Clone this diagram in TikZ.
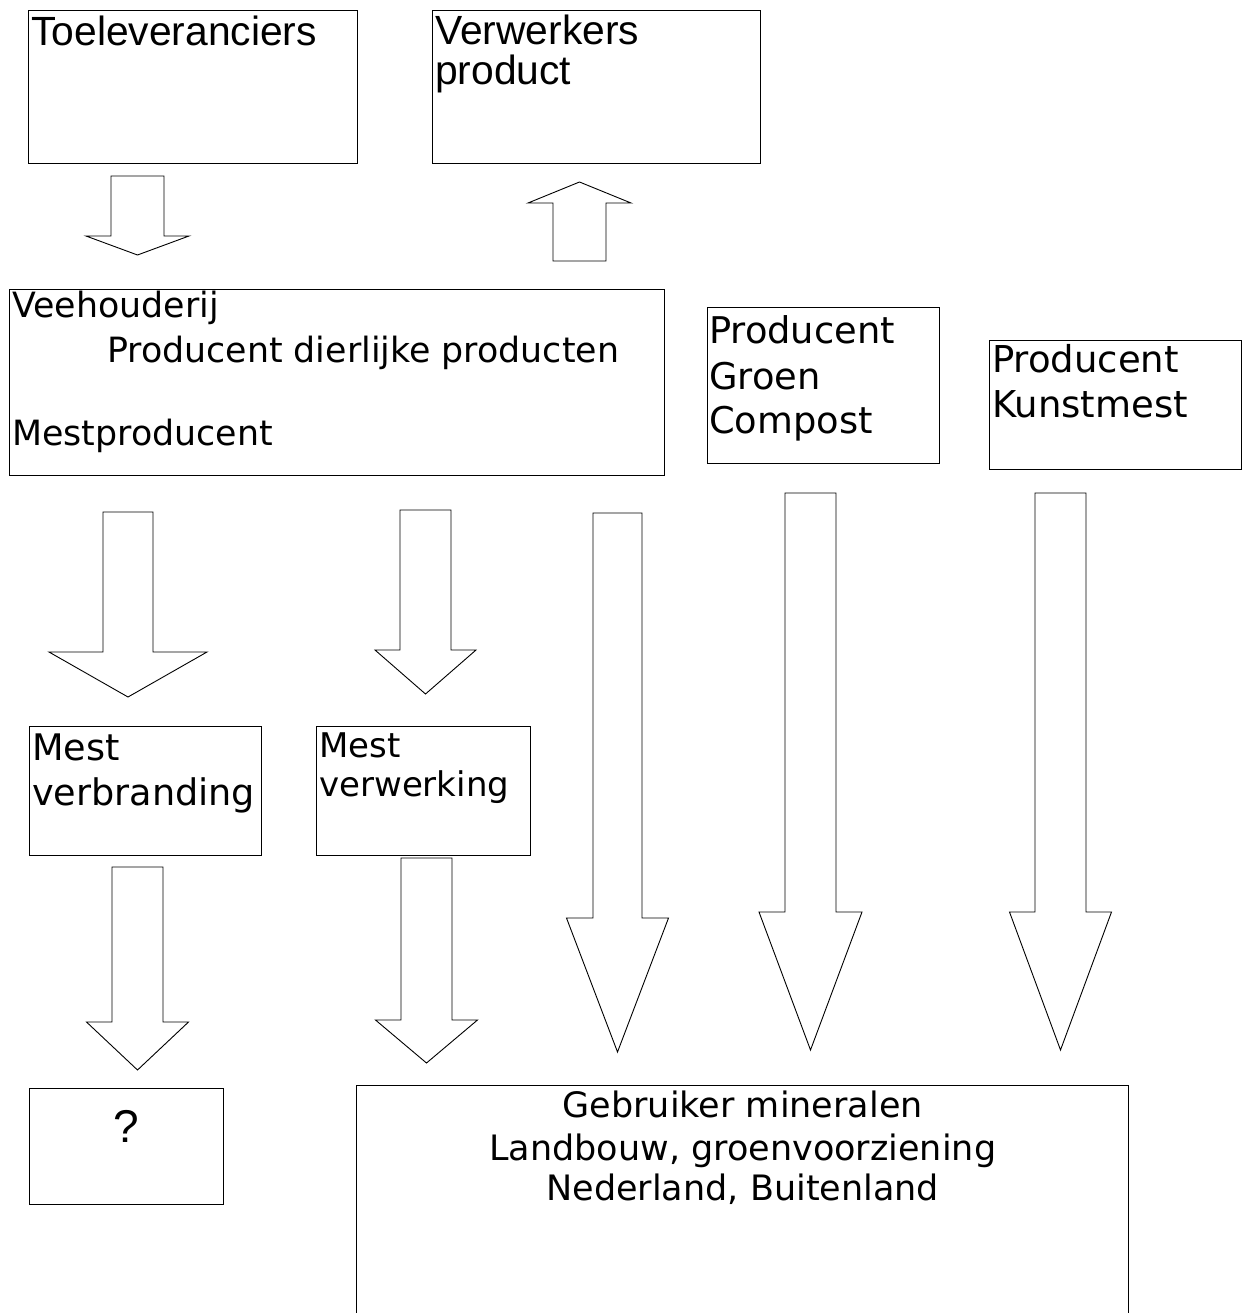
\documentclass[tikz,border=0pt]{standalone}
\usepackage{fontspec}
\setmainfont{DejaVu Sans}
\newfontfamily\narrowfont{Liberation Sans}
\usepackage{tikz}

\tikzset{
	box/.style={draw,line width=1.4pt,anchor=north west,inner sep=0pt},
	txt/.style={anchor=base west,inner sep=0pt},
	ctxt/.style={anchor=base,inner sep=0pt},
	arrowline/.style={draw,line width=0.9pt,line join=miter,fill=white}
}
% block arrow: centre x, start y, head base y, tip y, half shaft, half head
\newcommand{\blkarrow}[6]{%
	\draw[arrowline] (#1-#5,#2) -- (#1+#5,#2) -- (#1+#5,#3) -- (#1+#6,#3) -- (#1,#4) -- (#1-#6,#3) -- (#1-#5,#3) -- cycle;}

\begin{document}
\begin{tikzpicture}[x=1pt,y=-1pt]
			\useasboundingbox (0,0) rectangle (1247,1313);
			\clip (0,0) rectangle (1247,1313);

			\coordinate (toel_nw) at (28,10);
			\coordinate (verw_nw) at (432,10);
			\coordinate (veeh_nw) at (9,289);
			\coordinate (groen_nw) at (707,307);
			\coordinate (kunst_nw) at (989,340);
			\coordinate (mverb_nw) at (29,726);
			\coordinate (mverw_nw) at (316,726);
			\coordinate (vraag_nw) at (29,1088);
			\coordinate (gebr_nw) at (356,1085);

			\node[box,minimum width=329pt,minimum height=153pt] (toel) at (toel_nw) {};
			\node[box,minimum width=328pt,minimum height=153pt] (verw) at (verw_nw) {};
			\node[box,minimum width=655pt,minimum height=186pt] (veeh) at (veeh_nw) {};
			\node[box,minimum width=232pt,minimum height=156pt] (groen) at (groen_nw) {};
			\node[box,minimum width=252pt,minimum height=129pt] (kunst) at (kunst_nw) {};
			\node[box,minimum width=232pt,minimum height=129pt] (mverb) at (mverb_nw) {};
			\node[box,minimum width=214pt,minimum height=129pt] (mverw) at (mverw_nw) {};
			\node[box,minimum width=194pt,minimum height=116pt] (vraag) at (vraag_nw) {};
			\node[box,minimum width=772pt,minimum height=260pt] (gebr) at (gebr_nw) {};

			\node[txt,font=\narrowfont\fontsize{40.8}{40}\selectfont] (t_toel) at ([shift={(3,36)}]toel.north west) {Toeleveranciers};
			\node[txt,font=\narrowfont\fontsize{40.8}{40}\selectfont] (t_verw1) at ([shift={(3,35)}]verw.north west) {Verwerkers};
			\node[txt,font=\narrowfont\fontsize{40.8}{40}\selectfont] (t_verw2) at ([shift={(3,75)}]verw.north west) {product};

			\node[txt,font=\fontsize{34.8}{40}\selectfont] (t_veeh1) at ([shift={(3,28)}]veeh.north west) {Veehouderij};
			\node[txt,font=\fontsize{34.8}{40}\selectfont] (t_veeh2) at ([shift={(98,73)}]veeh.north west) {Producent dierlijke producten};
			\node[txt,font=\fontsize{34.8}{40}\selectfont] (t_veeh3) at ([shift={(3,156)}]veeh.north west) {Mestproducent};

			\node[txt,font=\fontsize{36.8}{45}\selectfont] (t_groen1) at ([shift={(2,36)}]groen.north west) {Producent};
			\node[txt,font=\fontsize{36.8}{45}\selectfont] (t_groen2) at ([shift={(2,82)}]groen.north west) {Groen};
			\node[txt,font=\fontsize{36.8}{45}\selectfont] (t_groen3) at ([shift={(2,126)}]groen.north west) {Compost};

			\node[txt,font=\fontsize{37}{45}\selectfont] (t_kunst1) at ([shift={(3,32)}]kunst.north west) {Producent};
			\node[txt,font=\fontsize{37}{45}\selectfont] (t_kunst2) at ([shift={(3,77)}]kunst.north west) {Kunstmest};

			\node[txt,font=\fontsize{36.6}{45}\selectfont] (t_mverb1) at ([shift={(3,34)}]mverb.north west) {Mest};
			\node[txt,font=\fontsize{36.6}{45}\selectfont] (t_mverb2) at ([shift={(3,79)}]mverb.north west) {verbranding};

			\node[txt,font=\fontsize{34}{40}\selectfont] (t_mverw1) at ([shift={(3,31)}]mverw.north west) {Mest};
			\node[txt,font=\fontsize{34}{40}\selectfont] (t_mverw2) at ([shift={(3,70)}]mverw.north west) {verwerking};

			\node[ctxt,font=\narrowfont\fontsize{46}{46}\selectfont] (t_vraag) at ([shift={(0,54)}]vraag.north) {?};

			\node[ctxt,font=\fontsize{35}{42}\selectfont] (t_gebr1) at ([shift={(0,32)}]gebr.north) {Gebruiker mineralen};
			\node[ctxt,font=\fontsize{35}{42}\selectfont] (t_gebr2) at ([shift={(0,75)}]gebr.north) {Landbouw, groenvoorziening};
			\node[ctxt,font=\fontsize{35}{42}\selectfont] (t_gebr3) at ([shift={(0,115)}]gebr.north) {Nederland, Buitenland};

			\blkarrow{137.5}{176}{236}{255}{26.5}{51.5}
			\blkarrow{579.5}{261}{203}{182}{26.5}{51.5}
			\blkarrow{128}{512}{652}{697}{25}{79}
			\blkarrow{425.5}{510}{650}{694}{25.5}{50.5}
			\blkarrow{617.5}{513}{918}{1052}{24.5}{51}
			\blkarrow{810.5}{493}{912}{1050}{25.5}{51.5}
			\blkarrow{1060.5}{493}{912}{1050}{25.5}{51}
			\blkarrow{137.5}{867}{1022}{1070}{25.5}{51}
			\blkarrow{426.5}{858}{1020}{1063}{25.5}{51}
		\end{tikzpicture}
\end{document}
